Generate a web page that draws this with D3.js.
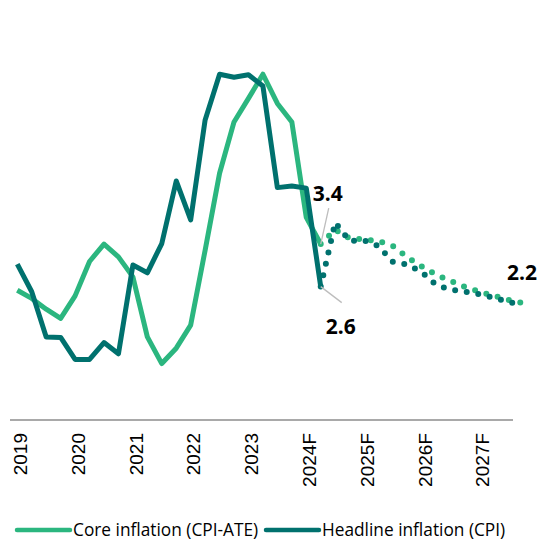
<!DOCTYPE html>
<html>
<head>
<meta charset="utf-8">
<script src="https://cdn.jsdelivr.net/npm/d3@7"></script>
<style>
  body { margin: 0; background: #fff; }
  svg { display: block; }
</style>
</head>
<body>
<svg id="chart" width="539" height="540"></svg>
<script>
// quarters 2019Q1 .. 2027Q4
const periods = [
  "2019Q1","2019Q2","2019Q3","2019Q4","2020Q1","2020Q2","2020Q3","2020Q4",
  "2021Q1","2021Q2","2021Q3","2021Q4","2022Q1","2022Q2","2022Q3","2022Q4",
  "2023Q1","2023Q2","2023Q3","2023Q4","2024Q1","2024Q2","2024Q3","2024Q4",
  "2025Q1","2025Q2","2025Q3","2025Q4","2026Q1","2026Q2","2026Q3","2026Q4",
  "2027Q1","2027Q2","2027Q3","2027Q4"
];
const tickPeriods = ["2019Q1","2020Q1","2021Q1","2022Q1","2023Q1","2024Q1","2025Q1","2026Q1","2027Q1"];
const tickLabels = ["2019","2020","2021","2022","2023","2024F","2025F","2026F","2027F"];

// actual, 2019Q1 - 2024Q2
const coreActual = [2.53, 2.37, 2.16, 1.98, 2.42, 3.09, 3.43, 3.18, 2.79, 1.62, 1.10, 1.40,
  1.85, 3.31, 4.81, 5.81, 6.27, 6.74, 6.17, 5.81, 3.95, 3.43];
const headlineActual = [3.04, 2.50, 1.62, 1.61, 1.18, 1.18, 1.51, 1.29, 3.02, 2.87, 3.44, 4.66,
  3.90, 5.85, 6.74, 6.68, 6.73, 6.51, 4.53, 4.56, 4.52, 2.60];
// forecast, 2024Q2 - 2027Q4
const coreForecast = [3.43, 3.71, 3.54, 3.52, 3.49, 3.39, 3.17, 2.99, 2.83, 2.71, 2.59, 2.50, 2.42, 2.34, 2.28];
const headlineForecast = [2.60, 3.85, 3.49, 3.50, 3.39, 3.08, 3.03, 2.88, 2.63, 2.54, 2.50, 2.45, 2.38, 2.30, 2.24];

const coreColor = "#2bb67f";
const headColor = "#00716e";

const svg = d3.select("#chart");

const x = d3.scalePoint().domain(periods).range([17.3, 523]);
const y = d3.scaleLinear().domain([0, 8]).range([420, 9.6]);

const line = d3.line()
  .x(d => x(d.p))
  .y(d => y(d.v));

function actualPts(arr) {
  return arr.map((v, i) => ({ p: periods[i], v: v }));
}
function forecastPts(arr) {
  const start = periods.indexOf("2024Q2");
  return arr.map((v, i) => ({ p: periods[start + i], v: v }));
}

// x axis line
svg.append("line")
  .attr("x1", 10).attr("x2", 513)
  .attr("y1", y(0)).attr("y2", y(0))
  .style("stroke", "#8c8c8c")
  .style("stroke-width", 1.5);

// tick labels
svg.append("g").selectAll("text")
  .data(tickPeriods)
  .join("text")
  .attr("transform", (d) => "translate(" + (x(d) + 3) + ",433) rotate(-90)")
  .attr("text-anchor", "end")
  .attr("dy", "0.35em")
  .style("font-family", "'Liberation Sans', Arial, sans-serif")
  .style("font-size", "19px")
  .style("fill", "#000")
  .text((d, i) => tickLabels[i]);

// core
svg.append("path")
  .attr("d", line(actualPts(coreActual)))
  .style("fill", "none")
  .style("stroke", coreColor)
  .style("stroke-width", 5)
  .style("stroke-linejoin", "round");
svg.append("path")
  .attr("d", line(forecastPts(coreForecast)))
  .style("fill", "none")
  .style("stroke", coreColor)
  .style("stroke-width", 6)
  .style("stroke-linecap", "round")
  .style("stroke-dasharray", "0 11.7");

// headline
svg.append("path")
  .attr("d", line(actualPts(headlineActual)))
  .style("fill", "none")
  .style("stroke", headColor)
  .style("stroke-width", 5)
  .style("stroke-linejoin", "round");
svg.append("path")
  .attr("d", line(forecastPts(headlineForecast)))
  .style("fill", "none")
  .style("stroke", headColor)
  .style("stroke-width", 6)
  .style("stroke-linecap", "round")
  .style("stroke-dasharray", "0 11.7");

// labels
const lastQ = "2024Q2";
const labelFont = "'Open Sans', 'Noto Sans', sans-serif";
svg.append("line")
  .attr("x1", x(lastQ)).attr("y1", y(coreActual[coreActual.length - 1]))
  .attr("x2", x(lastQ) + 8).attr("y2", y(coreActual[coreActual.length - 1]) - 36)
  .style("stroke", "#bdbdbd").style("stroke-width", 1.3);
svg.append("text")
  .attr("x", x(lastQ) - 8).attr("y", 201)
  .style("font-family", labelFont).style("font-weight", 700).style("font-size", "21px")
  .text("3.4");

svg.append("line")
  .attr("x1", x(lastQ)).attr("y1", y(headlineActual[headlineActual.length - 1]))
  .attr("x2", x(lastQ) + 21).attr("y2", y(headlineActual[headlineActual.length - 1]) + 16)
  .style("stroke", "#bdbdbd").style("stroke-width", 1.3);
svg.append("text")
  .attr("x", x(lastQ) + 5).attr("y", 334)
  .style("font-family", labelFont).style("font-weight", 700).style("font-size", "21px")
  .text("2.6");

svg.append("text")
  .attr("x", 537).attr("y", 280)
  .attr("text-anchor", "end")
  .style("font-family", labelFont).style("font-weight", 700).style("font-size", "21px")
  .text("2.2");

// legend
const legend = [
  { name: "Core inflation (CPI-ATE)", color: coreColor, x: 17 },
  { name: "Headline inflation (CPI)", color: headColor, x: 266 }
];
const lg = svg.append("g").selectAll("g").data(legend).join("g")
  .attr("transform", d => "translate(" + d.x + ",530)");
lg.append("line")
  .attr("x1", 0).attr("x2", 53).attr("y1", 0).attr("y2", 0)
  .style("stroke", d => d.color)
  .style("stroke-width", 4.5)
  .style("stroke-linecap", "round");
lg.append("text")
  .attr("x", 56).attr("dy", "0.35em")
  .style("font-family", labelFont)
  .style("font-size", "17.3px")
  .style("fill", "#000")
  .text(d => d.name);
</script>
</body>
</html>
